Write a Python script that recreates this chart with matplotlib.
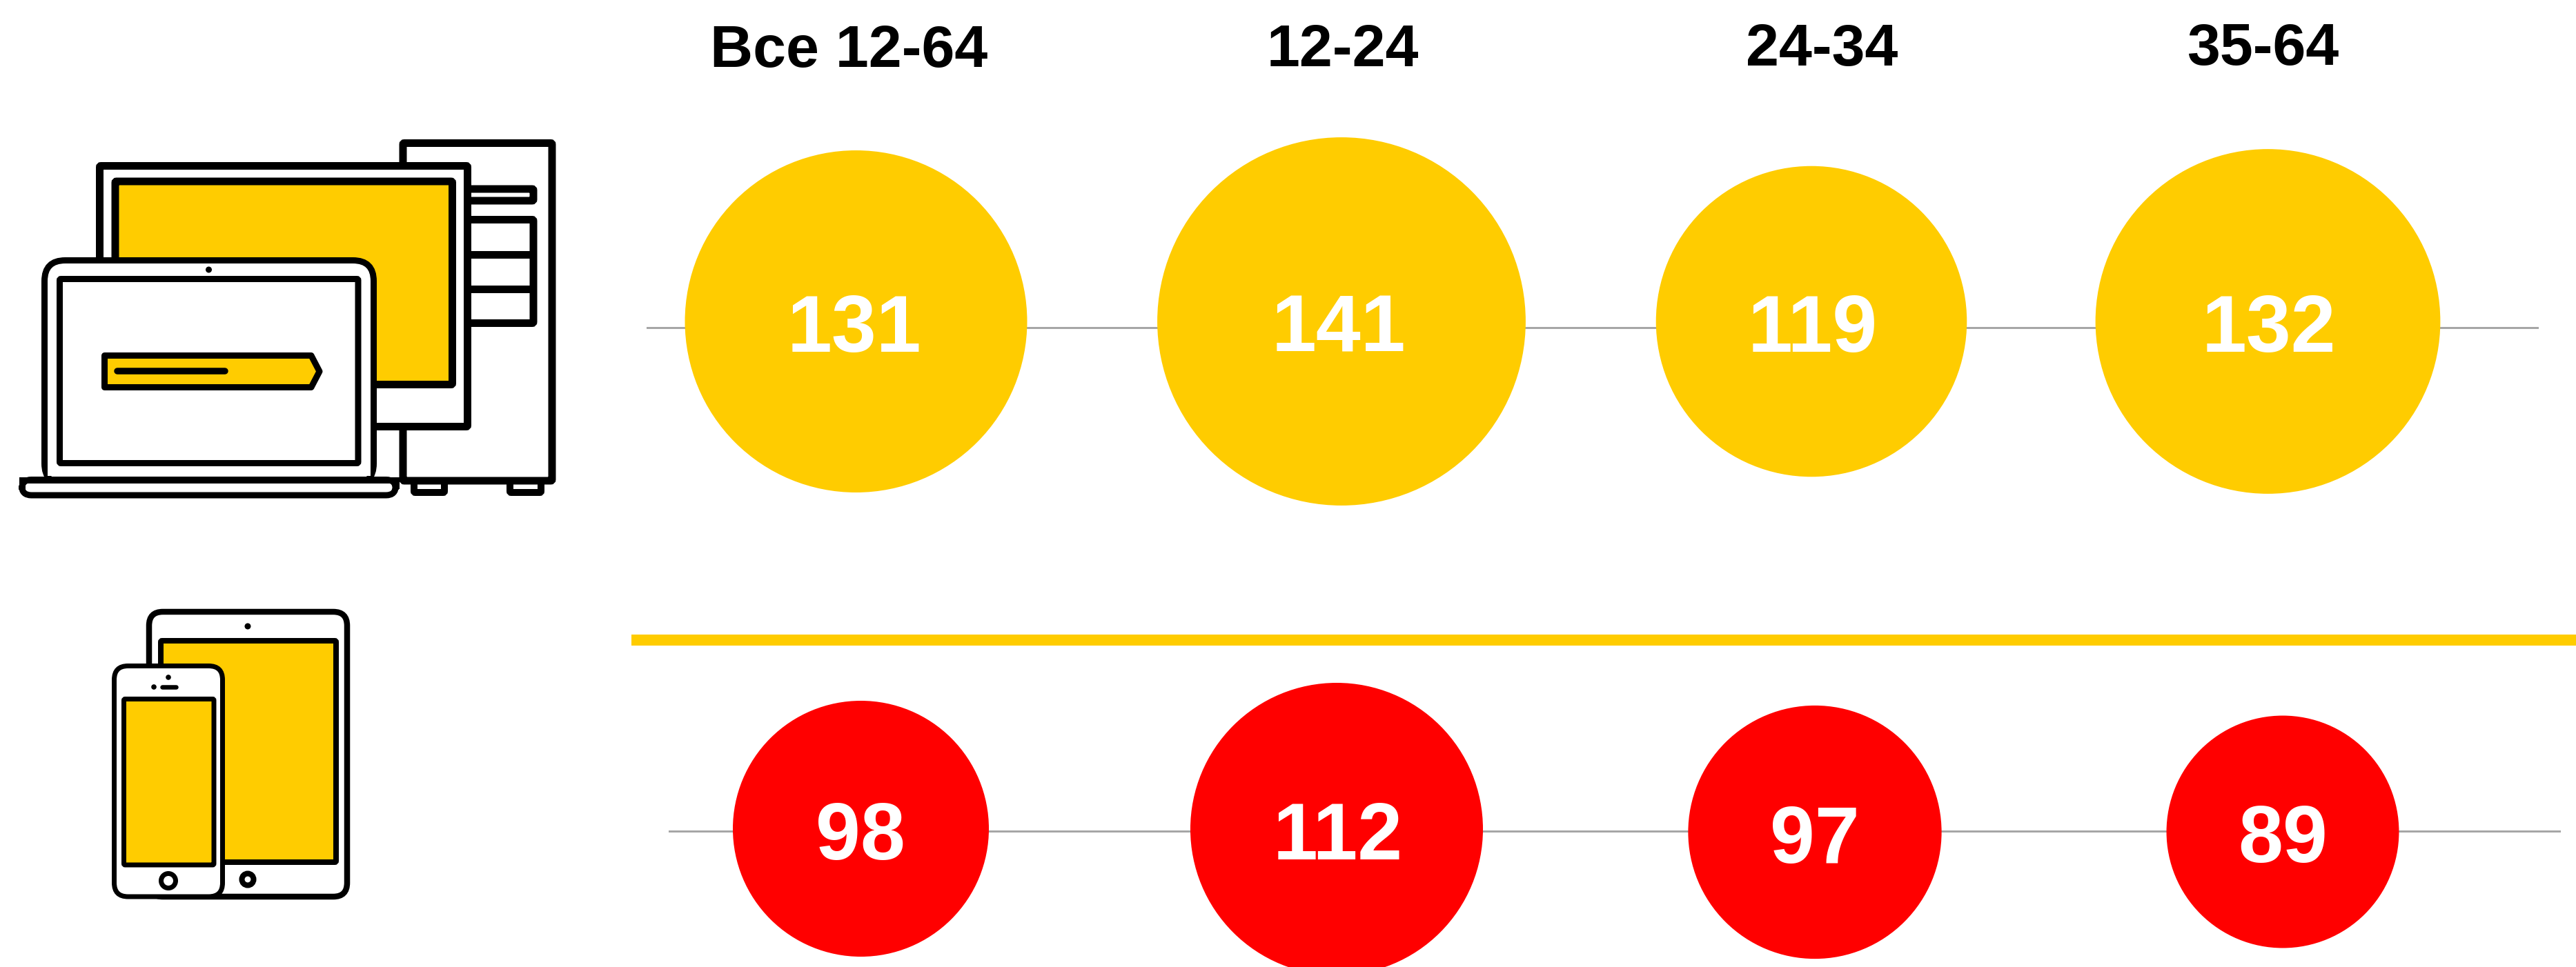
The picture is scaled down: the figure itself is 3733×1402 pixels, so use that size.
import matplotlib
matplotlib.use("Agg")
import matplotlib.pyplot as plt
from matplotlib.patches import Circle, Rectangle, FancyBboxPatch, Polygon

age_groups = ["Все 12-64", "12-24", "24-34", "35-64"]
desktop_values = [131, 141, 119, 132]
mobile_values = [98, 112, 97, 89]

W, H = 3733, 1402
YEL, RED = "#FFCC00", "#FF0000"
R_PER_UNIT = 1.893
TOP_X = [1240.5, 1944, 2625, 3286.5]
BOT_X = [1247.5, 1937, 2630, 3308]
HEAD_X = [1230, 1946, 2640, 3279]
HEAD_BASE = [97, 96, 95, 94]
TOP_Y = 466
BOT_Y = [1201.5, 1202, 1206.5, 1206]
TOP_LABEL_X = [1238, 1940, 2627, 3288]
BOT_LABEL_X = [1247, 1939, 2630, 3308]
BOT_LABEL_BASE = [1246, 1246, 1251, 1250]

plt.rcParams["font.family"] = ["Liberation Sans", "DejaVu Sans"]
fig = plt.figure(figsize=(W / 100, H / 100), dpi=100)
ax = fig.add_axes([0, 0, 1, 1])
ax.set_xlim(0, W)
ax.set_ylim(H, 0)
ax.axis("off")
PX = 72 / 100


def rbox(x0, y0, x1, y1, lw, fc="white", r=2, z=5):
    ax.add_patch(FancyBboxPatch((x0, y0), x1 - x0, y1 - y0,
                                boxstyle=f"round,pad=0,rounding_size={r}",
                                fc=fc, ec="black", lw=lw * PX, zorder=z))


def hline(x0, x1, y, lw, z, cap="butt"):
    ax.plot([x0, x1], [y, y], color="k", lw=lw * PX, solid_capstyle=cap, zorder=z)


# separators and guide lines
ax.plot([938, 3677], [475, 475], color="#A6A6A6", lw=3 * PX, zorder=1)
ax.plot([970, 3709], [1205, 1205], color="#A6A6A6", lw=3 * PX, zorder=1)
ax.add_patch(Rectangle((915, 920), W - 915, 16, fc=YEL, ec="none", zorder=1))

for name, x, y in zip(age_groups, HEAD_X, HEAD_BASE):
    ax.text(x, y, name, ha="center", va="baseline", fontsize=62,
            fontweight="bold", color="black", zorder=6)

for v, x, lx in zip(desktop_values, TOP_X, TOP_LABEL_X):
    ax.add_patch(Circle((x, TOP_Y), v * R_PER_UNIT, fc=YEL, ec="none", zorder=2))
    ax.text(lx, 510, str(v), ha="center", va="baseline", fontsize=84,
            fontweight="bold", color="white", zorder=3)
for v, x, y, lx, ly in zip(mobile_values, BOT_X, BOT_Y, BOT_LABEL_X, BOT_LABEL_BASE):
    ax.add_patch(Circle((x, y), v * R_PER_UNIT, fc=RED, ec="none", zorder=2))
    ax.text(lx, ly, str(v), ha="center", va="baseline", fontsize=84,
            fontweight="bold", color="white", zorder=3)

# desktop tower
rbox(584, 207.5, 800, 697, 11)
rbox(600, 697, 644, 714, 10, z=4)
rbox(739, 697, 784, 714, 10, z=4)
rbox(660, 274, 773, 291, 11, z=6)
rbox(660, 318.5, 773, 468.5, 11, z=6)
hline(660, 773, 369, 11, 6)
hline(660, 773, 418.5, 11, 6)
# monitor
rbox(144.5, 240.5, 677.5, 618.5, 11, z=7)
rbox(167, 263, 655.5, 557.5, 11, fc=YEL, z=8)
# laptop
rbox(64.5, 377.5, 541.5, 702, 9, r=30, z=9)
ax.add_patch(Rectangle((69, 660), 468, 30, fc="white", ec="none", zorder=9.5))
rbox(86.5, 404.5, 519, 671.5, 9, z=10)
ax.add_patch(Circle((302.5, 391), 4.5, fc="black", ec="none", zorder=10))
ax.add_patch(Polygon([(151.5, 515.5), (451, 515.5), (463, 538.5), (451, 561.5), (151.5, 561.5)],
                     closed=True, fc=YEL, ec="black", lw=9 * PX, joinstyle="round", zorder=11))
hline(170, 326, 538, 9.5, 12, "round")
rbox(31.5, 695.5, 573.5, 718, 9, r=14, z=13)
ax.plot([31.5, 31.5, 573.5, 573.5], [704, 695.5, 695.5, 704], color="k",
        lw=9 * PX, solid_joinstyle="miter", zorder=14)

# tablet
rbox(216, 887, 503, 1300, 8.5, r=20, z=4)
rbox(233, 929, 487, 1250, 8, fc=YEL, z=5)
ax.add_patch(Circle((359, 908), 4.5, fc="black", ec="none", zorder=6))
ax.add_patch(Circle((359, 1275), 8.5, fc="white", ec="black", lw=8 * PX, zorder=6))
# phone
rbox(165.5, 965.5, 322.5, 1300, 7, r=20, z=7)
rbox(179.5, 1013.5, 310, 1254, 7, fc=YEL, z=8)
ax.add_patch(Circle((244, 982), 3.8, fc="black", ec="none", zorder=8))
ax.add_patch(Circle((223, 996), 3.8, fc="black", ec="none", zorder=8))
hline(235, 255, 996, 6.5, 8, "round")
ax.add_patch(Circle((244, 1277), 10.5, fc="white", ec="black", lw=7 * PX, zorder=8))

fig.savefig("out.png", dpi=100, facecolor="white")
